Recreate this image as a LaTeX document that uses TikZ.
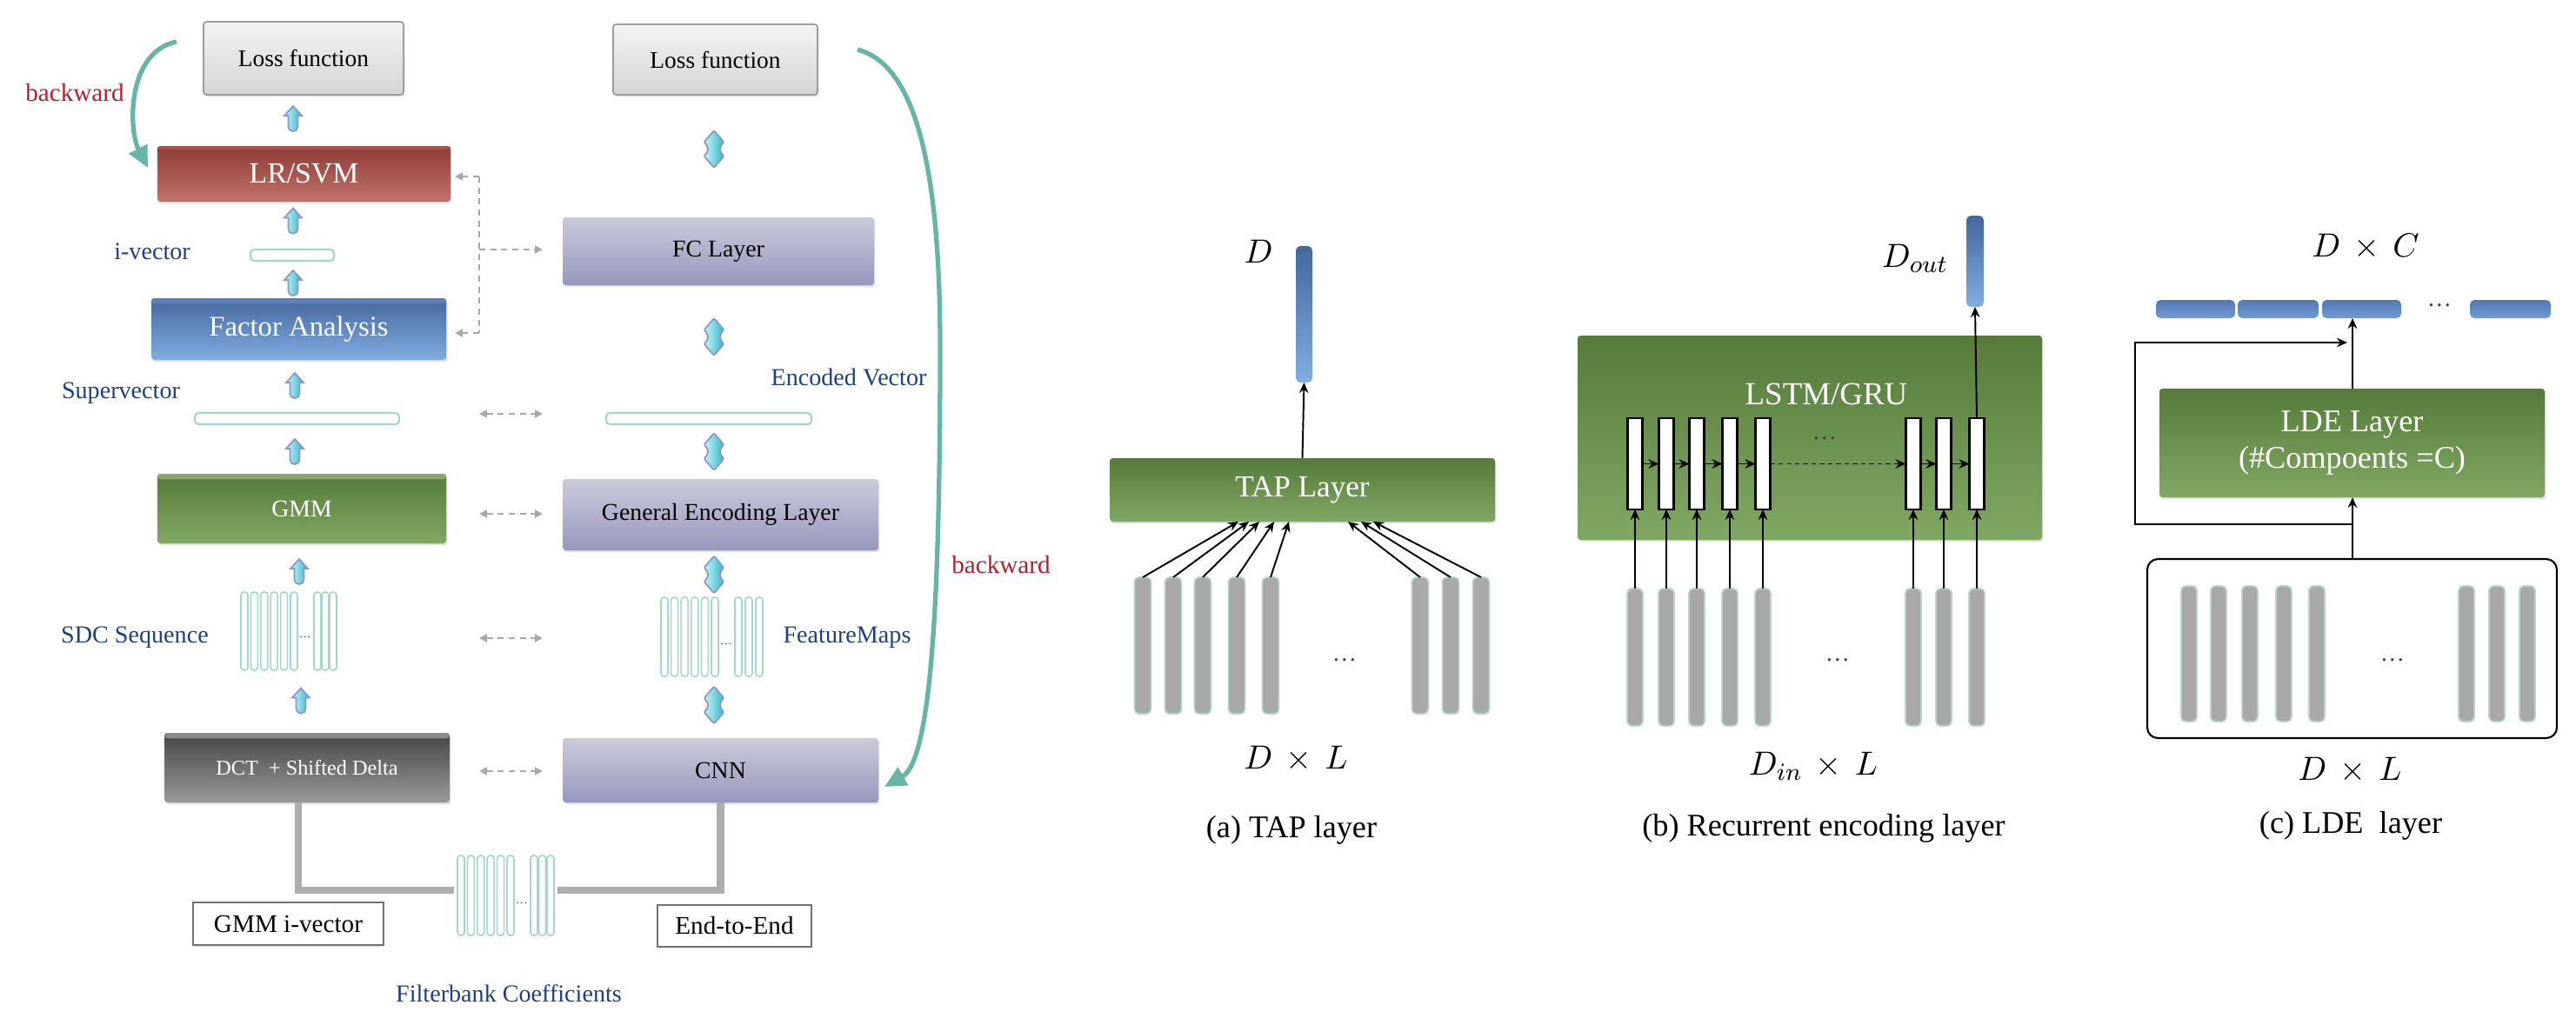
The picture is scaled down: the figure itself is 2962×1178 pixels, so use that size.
\documentclass[tikz,border=0pt]{standalone}
\usepackage{fontspec}
\setmainfont{Liberation Serif}
\usetikzlibrary{arrows.meta,shadows}
\definecolor{lossT}{HTML}{F3F3F3}
\definecolor{lossBt}{HTML}{D5D5D5}
\definecolor{lossB}{HTML}{9C9C9C}
\definecolor{redT}{HTML}{8F3B37}
\definecolor{redBt}{HTML}{C2716B}
\definecolor{blueT}{HTML}{46679C}
\definecolor{blueBt}{HTML}{80ADE2}
\definecolor{greenT}{HTML}{567B3B}
\definecolor{greenBt}{HTML}{80A862}
\definecolor{dgT}{HTML}{474747}
\definecolor{dgBt}{HTML}{999999}
\definecolor{lavT}{HTML}{CACADB}
\definecolor{lavBt}{HTML}{9797BD}
\definecolor{cyanL}{HTML}{C8F6F6}
\definecolor{cyanR}{HTML}{30B5C6}
\definecolor{arrB}{HTML}{8A96D0}
\definecolor{fmE}{HTML}{A5D6CC}
\definecolor{tealC}{HTML}{66B5A6}
\definecolor{redTxt}{HTML}{B22030}
\definecolor{blueTxt}{HTML}{1F3F7F}
\definecolor{grayBar}{HTML}{A8A8A8}
\definecolor{grayBarE}{HTML}{B7D4CD}
\definecolor{dashG}{HTML}{A9A9A9}
\definecolor{glineC}{HTML}{ADADAD}
\definecolor{hbT}{HTML}{5377B2}
\definecolor{hbB}{HTML}{709BD3}
\definecolor{stripD}{HTML}{8C8C8C}
\definecolor{stripB}{HTML}{5B7FB6}
\definecolor{stripG}{HTML}{88A86E}
\definecolor{stripR}{HTML}{A5524D}
\newcommand\myfs[1]{\fontsize{#1}{#1}\selectfont}
\tikzset{
  sz/.style n args={2}{minimum width=#1*0.01cm,minimum height=#2*0.01cm},
  base/.style={rectangle,inner sep=0pt,outer sep=0pt},
  shd/.style={drop shadow={shadow xshift=0.4pt,shadow yshift=-0.6pt,opacity=0.25}},
  lossbox/.style={base,shd,draw=lossB,line width=0.5pt,top color=lossT,bottom color=lossBt,rounded corners=1pt,font=\myfs{7.8}},
  redbox/.style={base,shd,top color=redT,bottom color=redBt,rounded corners=1pt,text=white,font=\myfs{9.6}},
  bluebox/.style={base,shd,top color=blueT,bottom color=blueBt,rounded corners=1pt,text=white,font=\myfs{9.3}},
  greenbox/.style={base,shd,top color=greenT,bottom color=greenBt,rounded corners=1pt,text=white,font=\myfs{7.9}},
  dgbox/.style={base,shd,top color=dgT,bottom color=dgBt,rounded corners=1pt,text=white,font=\myfs{6.9}},
  lavbox/.style={base,shd,top color=lavT,bottom color=lavBt,rounded corners=1pt,font=\myfs{7.9}},
  plainbox/.style={base,shd,draw=black!55,fill=white,line width=0.6pt,font=\myfs{8.3}},
  vecbar/.style={base,draw=fmE,fill=white,line width=0.6pt,rounded corners=1.2pt},
  fmbar/.style={base,draw=fmE,fill=white,line width=0.45pt,rounded corners=1pt,sz={8}{#1}},
  lbl/.style={base,text=blueTxt,font=\myfs{8}},
  redlbl/.style={base,text=redTxt,font=\myfs{8.3}},
  mlbl/.style={base,font=\myfs{11}},
  capl/.style={base,font=\myfs{10.3}},
  dotn/.style={base,font=\myfs{8},text=black!75},
  gbar/.style={base,fill=grayBar,draw=grayBarE,line width=0.5pt,rounded corners=1.5pt},
  vbar/.style={base,top color=blueT,bottom color=blueBt,rounded corners=1.5pt},
  hbar/.style={base,top color=hbT,bottom color=hbB,rounded corners=1.5pt},
  cellbox/.style={base,draw=black,fill=white,line width=0.6pt,sz={17}{105}},
  container/.style={base,draw=black,fill=white,line width=0.6pt,rounded corners=3.5pt},
  blockarr/.style={left color=cyanL,right color=cyanR,draw=arrB,line width=0.5pt},
  tealarr/.style={draw=tealC,line width=1.5pt,-{Triangle[length=7pt,width=6.5pt]}},
  dsh/.style={draw=dashG,line width=0.6pt,dash pattern=on 2pt off 1.6pt},
  dshA/.style={dsh,-{Triangle[length=2.6pt,width=2.6pt]}},
  dshB/.style={dsh,{Triangle[length=2.6pt,width=2.6pt]}-{Triangle[length=2.6pt,width=2.6pt]}},
  blk/.style={draw=black,line width=0.55pt,-{Stealth[length=3.4pt,width=3pt]}},
  gline/.style={draw=glineC,line width=2.4pt},
  uparr/.pic={\path[blockarr] (0,-14.5) -- (10,-3.5) -- (5.5,-3.5) {[rounded corners=1.5pt] -- (5.5,14.5) -- (-5.5,14.5)} -- (-5.5,-3.5) -- (-10,-3.5) -- cycle;},
  dblarr/.pic={\path[blockarr,rounded corners=0.6pt] (0,-21.5) -- (11.5,-8) -- (7,-3) -- (7,3) -- (11.5,8) -- (0,21.5) -- (-11.5,8) -- (-7,3) -- (-7,-3) -- (-11.5,-8) -- cycle;}
}
\begin{document}
\begin{tikzpicture}[x=0.01cm,y=-0.01cm]
\useasboundingbox (0,0) rectangle (2962,1178);

% ---------------- left panel ----------------
\node[lossbox,sz={230}{84}] (loss1) at (349,67) {Loss function};
\node[lossbox,sz={235}{81}] (loss2) at (822.5,68.5) {Loss function};
\node[redbox,sz={337}{64}] (lrsvm) at (349.5,200) {};
\node[vecbar,sz={96}{13}] (ivec) at (336,293.5) {};
\node[bluebox,sz={339}{71}] (fa) at (343.5,378.5) {};
\node[vecbar,sz={235}{13}] (supv) at (341.5,481.5) {};
\node[greenbox,sz={332}{80}] (gmm) at (347,585) {};
\node[dgbox,sz={328}{80}] (dct) at (353,883) {};
% lighter top strips of the coloured boxes
\fill[stripR,rounded corners=1pt] (lrsvm.north west) rectangle ([yshift=-1.2pt]lrsvm.north east);
\fill[stripB,rounded corners=1pt] (fa.north west) rectangle ([yshift=-1.8pt]fa.north east);
\fill[stripG,rounded corners=1pt] (gmm.north west) rectangle ([yshift=-1.8pt]gmm.north east);
\fill[stripD,rounded corners=1pt] (dct.north west) rectangle ([yshift=-1.8pt]dct.north east);
\node[base,text=white,font=\myfs{9.6}] (lrsvmt) at (lrsvm) {LR/SVM};
\node[base,text=white,font=\myfs{9.3}] (fat) at (fa) {Factor Analysis};
\node[base,text=white,font=\myfs{7.9}] (gmmt) at (gmm) {GMM};
\node[base,text=white,font=\myfs{6.9}] (dctt) at (dct) {DCT\ \ + Shifted Delta};
\node[lavbox,sz={358}{78}] (fc) at (826,289) {FC Layer};
\node[vecbar,sz={236}{13}] (encv) at (815,481.5) {};
\node[lavbox,sz={363}{82}] (gel) at (828.5,592) {General Encoding Layer};
\node[lavbox,sz={363}{74}] (cnn) at (828.5,886) {CNN};
\node[plainbox,sz={219}{49}] (gmmiv) at (331.5,1062.5) {GMM i-vector};
\node[plainbox,sz={177}{48}] (e2e) at (844.5,1065) {End-to-End};

\node[redlbl] (bwl) at (86,107) {backward};
\node[redlbl] (bwr) at (1151,650) {backward};
\node[lbl] (livec) at (175,289) {i-vector};
\node[lbl] (lsupv) at (139,452) {Supervector};
\node[lbl] (lenc) at (976,434) {Encoded Vector};
\node[lbl] (lsdc) at (155,733) {SDC Sequence};
\node[lbl] (lfm) at (974,733) {FeatureMaps};
\node[lbl] (lfb) at (585,1143) {Filterbank Coefficients};

% block arrows
\foreach \x/\y in {337/136.5,337/254,337/325.5,339/443.5,339/519.5,344/657.5,346/806}
  \pic at (\x,\y) {uparr};
\foreach \y in {171.5,387.5,519.5,661,811}
  \pic at (821,\y) {dblarr};

% dashed links
\coordinate (dT) at (551,203); \coordinate (dB) at (551,383); \coordinate (dM) at (551,287);
\coordinate (dTe) at (523,203); \coordinate (dBe) at (523,383); \coordinate (dMe) at (624,287);
\draw[dsh] (dT) -- (dB);
\draw[dshA] (dT) -- (dTe);
\draw[dshA] (dB) -- (dBe);
\draw[dshA] (dM) -- (dMe);
\foreach \k/\y in {1/476,2/591,3/734,4/887}{
  \coordinate (h\k a) at (551,\y); \coordinate (h\k b) at (624,\y);
  \draw[dshB] (h\k a) -- (h\k b);
}

% feature maps (SDC)
\foreach \i in {0,...,5} \node[fmbar=90] (sdc\i) at (281+11.4*\i,726) {};
\foreach \i/\x in {6/365,7/374,8/383} \node[fmbar=90] (sdc\i) at (\x,726) {};
\node[base,font=\myfs{4},text=blueTxt] (sdcdots) at (351,733) {\ldots};
% feature maps (CNN)
\foreach \i in {0,...,5} \node[fmbar=91] (fm\i) at (764+11.6*\i,732.5) {};
\foreach \i/\x in {6/849,7/861,8/873} \node[fmbar=91] (fm\i) at (\x,732.5) {};
\node[base,font=\myfs{4},text=blueTxt] (fmdots) at (835,741) {\ldots};

% backward curves
\coordinate (bl0) at (203,48); \coordinate (bl1) at (170,193);
\draw[tealarr] (bl0) .. controls (145,60) and (148,150) .. (bl1);
\coordinate (br0) at (986,57); \coordinate (br1) at (1017,905);
\coordinate (brm) at (1081,400);
\draw[tealarr] (br0) .. controls (1055,75) and (1081,200) .. (brm) .. controls (1081,700) and (1070,875) .. (br1);

% input line and filterbank
\coordinate (gl) at (343,1024); \coordinate (gr) at (828.5,1024);
\draw[gline] (dct.south -| gl) -- (gl) -- (gr) -- (cnn.south);
\fill[white] (522,1012) rectangle (641,1036);
\foreach \i in {0,...,5} \node[fmbar=92] (fb\i) at (530+11.4*\i,1030) {};
\foreach \i/\x in {6/614,7/623.5,8/633} \node[fmbar=92] (fb\i) at (\x,1030) {};
\node[base,font=\myfs{4},text=blueTxt] (fbdots) at (600,1039) {\ldots};

% ---------------- (a) TAP layer ----------------
\node[mlbl] (Da) at (1447,289) {$D$};
\node[vbar,sz={19}{157}] (outa) at (1499.5,361.5) {};
\node[greenbox,sz={443}{73},font=\myfs{10}] (tap) at (1497.5,563.5) {TAP Layer};
\foreach \i/\x in {1/1314,2/1349,3/1383,4/1422,5/1461,6/1633,7/1668,8/1703}
  \node[gbar,sz={19}{157}] (ba\i) at (\x,742.5) {};
\foreach \i/\o in {1/-73.5,2/-61.5,3/-49.5,4/-32.5,5/-15.5,6/52.5,7/67.5,8/81.5}
  \draw[blk] (ba\i.north) -- ([xshift=\o*0.01cm]tap.south);
\draw[blk] (tap.north) -- (outa.south);
\node[dotn] (dotsa) at (1546,759) {\ldots};
\node[mlbl] (DLa) at (1490,873) {$D\,\times\,L$};
\node[capl] (capa) at (1485,955) {(a) TAP layer};

% ---------------- (b) Recurrent ----------------
\node[mlbl] (Dout) at (2202,297) {$D_{out}$};
\node[vbar,sz={20}{105}] (outb) at (2271,300.5) {};
\node[greenbox,sz={534}{235}] (lstm) at (2081,503.5) {};
\node[base,text=white,font=\myfs{10.5}] (lstmlbl) at (2100,453) {LSTM/GRU};
\foreach \i/\x in {1/1880,2/1916,3/1951,4/1989,5/2027,6/2200,7/2235,8/2273}{
  \node[cellbox] (cell\i) at (\x,533.5) {};
  \node[gbar,sz={18}{158}] (ib\i) at (\x,756) {};
  \draw[blk] (ib\i.north) -- (cell\i.south);
}
\foreach \i/\j in {1/2,2/3,3/4,4/5,6/7,7/8}
  \draw[blk] (cell\i.east) -- (cell\j.west);
\draw[blk,dash pattern=on 1.5pt off 1.2pt] (cell5.east) -- (cell6.west);
\draw[blk] (cell8.north) -- (outb.south);
\node[dotn] (dotsb1) at (2098,504) {\ldots};
\node[dotn] (dotsb2) at (2113,759) {\ldots};
\node[mlbl] (DLb) at (2085,881) {$D_{in}\,\times\,L$};
\node[capl] (capb) at (2097,953) {(b) Recurrent encoding layer};

% ---------------- (c) LDE ----------------
\node[mlbl] (DC) at (2720,284) {$D\,\times\,C$};
\node[hbar,sz={91}{21}] (ob1) at (2524.5,355.5) {};
\node[hbar,sz={93}{21}] (ob2) at (2619.5,355.5) {};
\node[hbar,sz={91}{21}] (ob3) at (2715.5,355.5) {};
\node[hbar,sz={93}{21}] (ob4) at (2886.5,355.5) {};
\node[dotn] (dotsc1) at (2805,351) {\ldots};
\node[greenbox,sz={443}{125},align=center,font=\fontsize{10.3}{11.7}\selectfont] (lde) at (2704.5,509.5) {LDE Layer\\(\#Compoents =C)};
\node[container,sz={471}{206}] (cont) at (2704.5,746) {};
\foreach \i/\x in {1/2517,2/2551,3/2587,4/2626,5/2664,6/2836,7/2871,8/2906}
  \node[gbar,sz={18}{156}] (cb\i) at (\x,752) {};
\node[dotn] (dotsc2) at (2751,759) {\ldots};
\coordinate (jn) at (2705,603);
\coordinate (sk1) at (2455,603);
\coordinate (sk2) at (2699,394);
\draw[blk] (cont.north -| jn) -- (lde.south -| jn);
\draw[blk] (jn) -- (sk1) |- (sk2);
\draw[blk] (lde.north -| jn) -- (ob3.south -| jn);
\node[mlbl] (DLc) at (2702,886) {$D\,\times\,L$};
\node[capl] (capc) at (2703,950) {(c) LDE\ \ layer};
\end{tikzpicture}
\end{document}
